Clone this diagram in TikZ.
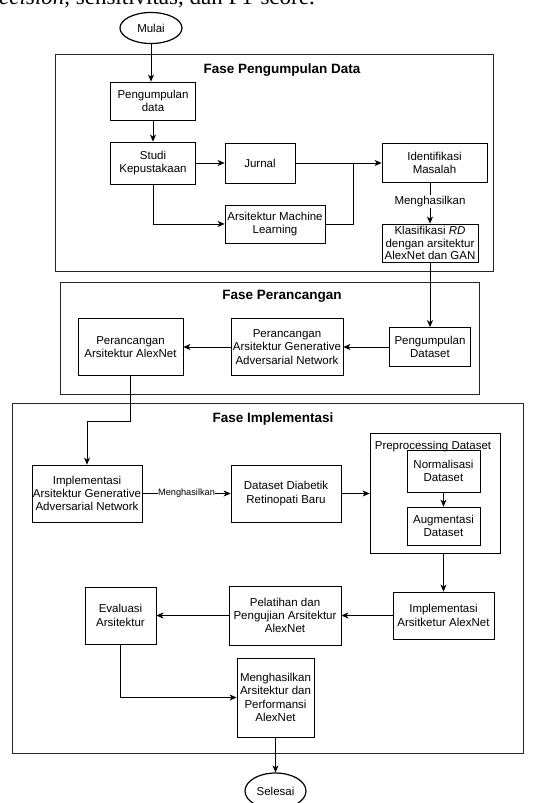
\documentclass[tikz,border=0pt]{standalone}
\usepackage{fontspec}
\setmainfont{Liberation Sans}
\newfontfamily\seriffont{Liberation Serif}
\usetikzlibrary{shapes.geometric,arrows.meta}
\tikzset{
  box/.style={draw=black, line width=0.8pt, rectangle, align=center, inner sep=1pt,
    font=\fontsize{11.5}{13.3}\selectfont},
  term/.style={draw=black, line width=1.2pt, ellipse, inner sep=0pt,
    font=\fontsize{11.5}{13.3}\selectfont},
  frame/.style={draw=black!85, line width=0.9pt},
  ttl/.style={font=\fontsize{13.5}{15}\selectfont\bfseries},
  conn/.style={draw=black, line width=0.8pt, -{Stealth[length=7pt,width=6pt,inset=2pt]}},
  plain/.style={draw=black, line width=0.8pt},
  lbl/.style={fill=white, inner sep=1pt, font=\fontsize{11.5}{13.3}\selectfont},
  slbl/.style={fill=white, inner sep=0.5pt, font=\fontsize{9.2}{11}\selectfont},
}
\begin{document}
\begin{tikzpicture}[x=1pt,y=-1pt]
\useasboundingbox (0,0) rectangle (540,803);
\fill[white] (0,0) rectangle (540,803);

% clipped line of running text at the top
\node[anchor=base east, inner sep=0pt, font=\seriffont\fontsize{23}{25}\selectfont] (toptext) at (315,5)
  {\textit{precision}, sensitivitas, dan F1-score.};

% ---------- frames ----------
\draw[frame] (55,54) rectangle (493,271);
\draw[frame] (60,282) rectangle (479,394);
\draw[frame] (12,403) rectangle (523,753);

\node[ttl] (t1) at (282,70) {Fase Pengumpulan Data};
\node[ttl] (t2) at (282,296) {Fase Perancangan};
\node[ttl] (t3) at (273,419) {Fase Implementasi};

% ---------- terminals ----------
\node[term, minimum width=62, minimum height=31] (mulai) at (151,28) {Mulai};
\node[term, minimum width=61, minimum height=36] (selesai) at (275.5,791) {Selesai};

% ---------- phase 1 ----------
\node[box, minimum width=85, minimum height=38] (pd) at (153,101) {Pengumpulan\\data};
\node[box, minimum width=85, minimum height=42] (sk) at (153,163) {Studi\\Kepustakaan};
\node[box, minimum width=70, minimum height=40] (jr) at (260,163) {Jurnal};
\node[box, minimum width=100, minimum height=38] (ml) at (275,224) {Arsitektur Machine\\Learning};
\node[box, minimum width=105, minimum height=39] (im) at (434.5,163) {Identifikasi\\Masalah};
\node[box, minimum width=96, minimum height=38, inner sep=0pt, font=\fontsize{11.5}{12.6}\selectfont] (kl) at (430,243)
  {Klasifikasi \textit{RD}\\dengan arsitektur\\AlexNet dan GAN};
\coordinate (j1) at (353,163);

% ---------- phase 2 ----------
\node[box, minimum width=81, minimum height=39] (pds) at (430,347) {Pengumpulan\\Dataset};
\node[box, minimum width=112, minimum height=57] (pg) at (287,347) {Perancangan\\Arsitektur Generative\\Adversarial Network};
\node[box, minimum width=105, minimum height=57] (pa) at (130.5,347) {Perancangan\\Arsitektur AlexNet};
\coordinate (k1) at (87,421);

% ---------- phase 3 ----------
\node[box, minimum width=110, minimum height=57] (ig) at (87,493.5) {Implementasi\\Arsitektur Generative\\Adversarial Network};
\node[box, minimum width=110, minimum height=57] (dd) at (286,493.5) {Dataset Diabetik\\Retinopati Baru};
\node[draw=black, line width=0.8pt, rectangle, minimum width=130, minimum height=120] (pp) at (435,493) {};
\node[font=\fontsize{11.5}{13.3}\selectfont] (ppl) at (433,447) {Preprocessing Dataset};
\node[box, minimum width=73, minimum height=42] (nm) at (443.5,471) {Normalisasi\\Dataset};
\node[box, minimum width=73, minimum height=38] (au) at (443.5,526) {Augmentasi\\Dataset};
\node[box, minimum width=101, minimum height=47] (ia) at (443.5,615.5) {Implementasi\\Arsitketur AlexNet};
\node[box, minimum width=112, minimum height=59] (pl) at (285,615.5) {Pelatihan dan\\Pengujian Arsitektur\\AlexNet};
\node[box, minimum width=71, minimum height=57] (ev) at (120.5,615.5) {Evaluasi\\Arsitektur};
\node[box, minimum width=77, minimum height=79] (mh) at (275.5,697.5) {Menghasilkan\\Arsitektur dan\\Performansi\\AlexNet};

% ---------- connectors ----------
\draw[conn] (mulai.south) -- (mulai.south |- pd.north);
\draw[conn] (pd) -- (sk);
\draw[conn] (sk) -- (jr);
\draw[conn] (sk.south) |- (ml.west);
\draw[conn] (jr.east) -- (im.west);
\draw[plain] (ml.east) -| (j1);
\draw[conn] (kl.north |- im.south) -- (kl.north) node[lbl, pos=0.45] (lab1) {Menghasilkan};
\draw[conn] (kl.south) -- (pds.north);
\draw[conn] (pds) -- (pg);
\draw[conn] (pg) -- (pa);
\draw[conn] (pa.south) |- (k1) -- (ig.north);
\draw[conn] (ig) -- (dd) node[slbl, midway] (lab2) {Menghasilkan};
\draw[conn] (dd.east) -- (pp.west |- dd.east);
\draw[conn] (nm) -- (au);
\draw[conn] (ia.north |- pp.south) -- (ia.north);
\draw[conn] (ia) -- (pl);
\draw[conn] (pl) -- (ev);
\draw[conn] (ev.south) |- (mh.west);
\draw[conn] (mh.south) -- (selesai.north);
\end{tikzpicture}
\end{document}
